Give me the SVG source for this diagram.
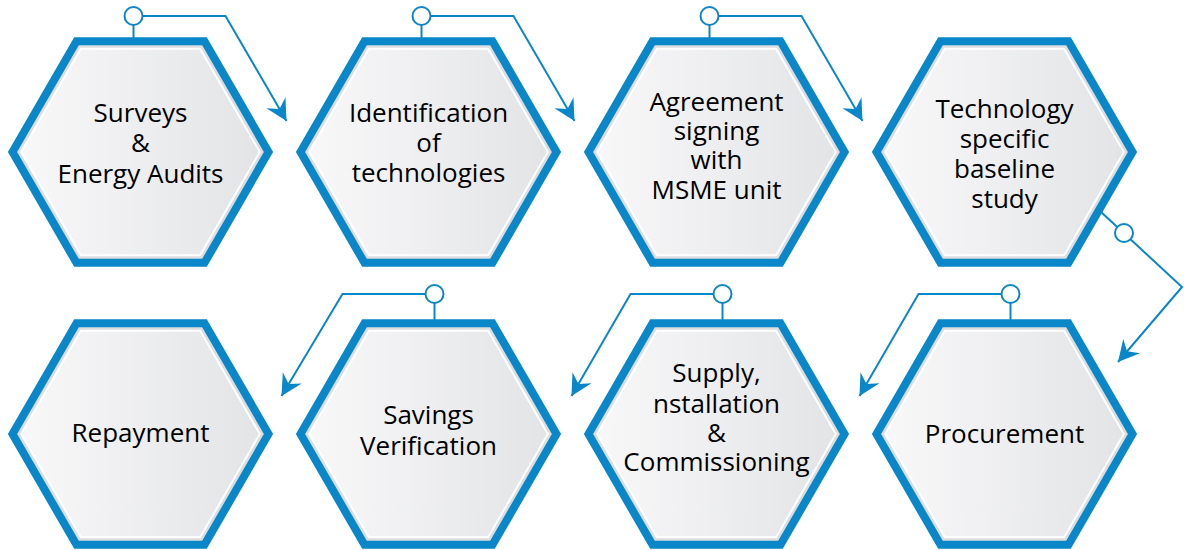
<svg xmlns="http://www.w3.org/2000/svg" width="1184" height="550" viewBox="0 0 1184 550">
  <defs>
    <linearGradient id="fillGrad" x1="0" y1="0" x2="1" y2="0">
      <stop offset="0" stop-color="#f8f8f9"/>
      <stop offset="1" stop-color="#e3e4e6"/>
    </linearGradient>
    <path id="hexOuter" d="M-128,0 L-64,-110.85 L64,-110.85 L128,0 L64,110.85 L-64,110.85 Z"/>
    <path id="hexInner" d="M-119.3,0 L-59.65,-103.35 L59.65,-103.35 L119.3,0 L59.65,103.35 L-59.65,103.35 Z"/>
    <marker id="arrow" markerUnits="userSpaceOnUse" markerWidth="28" markerHeight="28" viewBox="-25 -14 28 28" refX="0" refY="0" orient="auto">
      <path d="M0,0 L-21,-11 L-14,0 L-21,11 Z" fill="#0a87c8"/>
    </marker>
  </defs>
  <style>
    .outer { fill: #dcdddf; stroke: #0a87c8; stroke-width: 8; stroke-linejoin: miter; }
    .inner { fill: url(#fillGrad); stroke: #ffffff; stroke-width: 2; }
    .lbl { font-family: "Open Sans", "Noto Sans", sans-serif; font-size: 26px; fill: #000000; text-anchor: middle; }
    .conn { fill: none; stroke: #0a87c8; stroke-width: 2; }
    .dot { fill: #ffffff; stroke: #0a87c8; stroke-width: 2; }
  </style>

  <g id="connectors">
    <!-- top row -->
    <path class="conn" d="M133.5,25 V38"/>
    <path class="conn" d="M142.5,16 H225.5 L286.5,121" marker-end="url(#arrow)"/>
    <path class="conn" d="M421.5,25 V38"/>
    <path class="conn" d="M430.5,16 H513.5 L574.5,121" marker-end="url(#arrow)"/>
    <path class="conn" d="M709.5,25 V38"/>
    <path class="conn" d="M718.5,16 H801.5 L862.5,121" marker-end="url(#arrow)"/>
    <!-- side -->
    <path class="conn" d="M1101,212 L1182,287 L1118,362" marker-end="url(#arrow)"/>
    <!-- bottom row -->
    <path class="conn" d="M1010.5,303 V323"/>
    <path class="conn" d="M1001.5,294 H918.5 L859.5,396" marker-end="url(#arrow)"/>
    <path class="conn" d="M722.5,303 V323"/>
    <path class="conn" d="M713.5,294 H630.5 L571.5,396" marker-end="url(#arrow)"/>
    <path class="conn" d="M434.5,303 V323"/>
    <path class="conn" d="M425.5,294 H342.5 L281.5,396" marker-end="url(#arrow)"/>
    <circle class="dot" cx="133.5" cy="16" r="9"/>
    <circle class="dot" cx="421.5" cy="16" r="9"/>
    <circle class="dot" cx="709.5" cy="16" r="9"/>
    <circle class="dot" cx="1124" cy="233" r="9"/>
    <circle class="dot" cx="1010.5" cy="294" r="9"/>
    <circle class="dot" cx="722.5" cy="294" r="9"/>
    <circle class="dot" cx="434.5" cy="294" r="9"/>
  </g>

  <g id="node-surveys" transform="translate(140.5,152)">
    <use href="#hexOuter" class="outer"/>
    <use href="#hexInner" class="inner"/>
    <text class="lbl" x="0" y="-30">Surveys</text>
    <text class="lbl" x="0" y="0">&amp;</text>
    <text class="lbl" x="0" y="31">Energy Audits</text>
  </g>

  <g id="node-identification" transform="translate(428.5,152)">
    <use href="#hexOuter" class="outer"/>
    <use href="#hexInner" class="inner"/>
    <text class="lbl" x="0" y="-30">Identification</text>
    <text class="lbl" x="0" y="0">of</text>
    <text class="lbl" x="0" y="30">technologies</text>
  </g>

  <g id="node-agreement" transform="translate(716.5,152)">
    <use href="#hexOuter" class="outer"/>
    <use href="#hexInner" class="inner"/>
    <text class="lbl" x="0" y="-41">Agreement</text>
    <text class="lbl" x="0" y="-12">signing</text>
    <text class="lbl" x="0" y="17">with</text>
    <text class="lbl" x="0" y="47">MSME unit</text>
  </g>

  <g id="node-baseline" transform="translate(1004.5,152)">
    <use href="#hexOuter" class="outer"/>
    <use href="#hexInner" class="inner"/>
    <text class="lbl" x="0" y="-34">Technology</text>
    <text class="lbl" x="0" y="-4">specific</text>
    <text class="lbl" x="0" y="26">baseline</text>
    <text class="lbl" x="0" y="56">study</text>
  </g>

  <g id="node-repayment" transform="translate(140.5,434)">
    <use href="#hexOuter" class="outer"/>
    <use href="#hexInner" class="inner"/>
    <text class="lbl" x="0" y="8">Repayment</text>
  </g>

  <g id="node-savings" transform="translate(428.5,434)">
    <use href="#hexOuter" class="outer"/>
    <use href="#hexInner" class="inner"/>
    <text class="lbl" x="0" y="-10">Savings</text>
    <text class="lbl" x="0" y="21">Verification</text>
  </g>

  <g id="node-supply" transform="translate(716.5,434)">
    <use href="#hexOuter" class="outer"/>
    <use href="#hexInner" class="inner"/>
    <text class="lbl" x="0" y="-52">Supply,</text>
    <text class="lbl" x="0" y="-21">nstallation</text>
    <text class="lbl" x="0" y="8">&amp;</text>
    <text class="lbl" x="0" y="37">Commissioning</text>
  </g>

  <g id="node-procurement" transform="translate(1004.5,434)">
    <use href="#hexOuter" class="outer"/>
    <use href="#hexInner" class="inner"/>
    <text class="lbl" x="0" y="9">Procurement</text>
  </g>
</svg>
